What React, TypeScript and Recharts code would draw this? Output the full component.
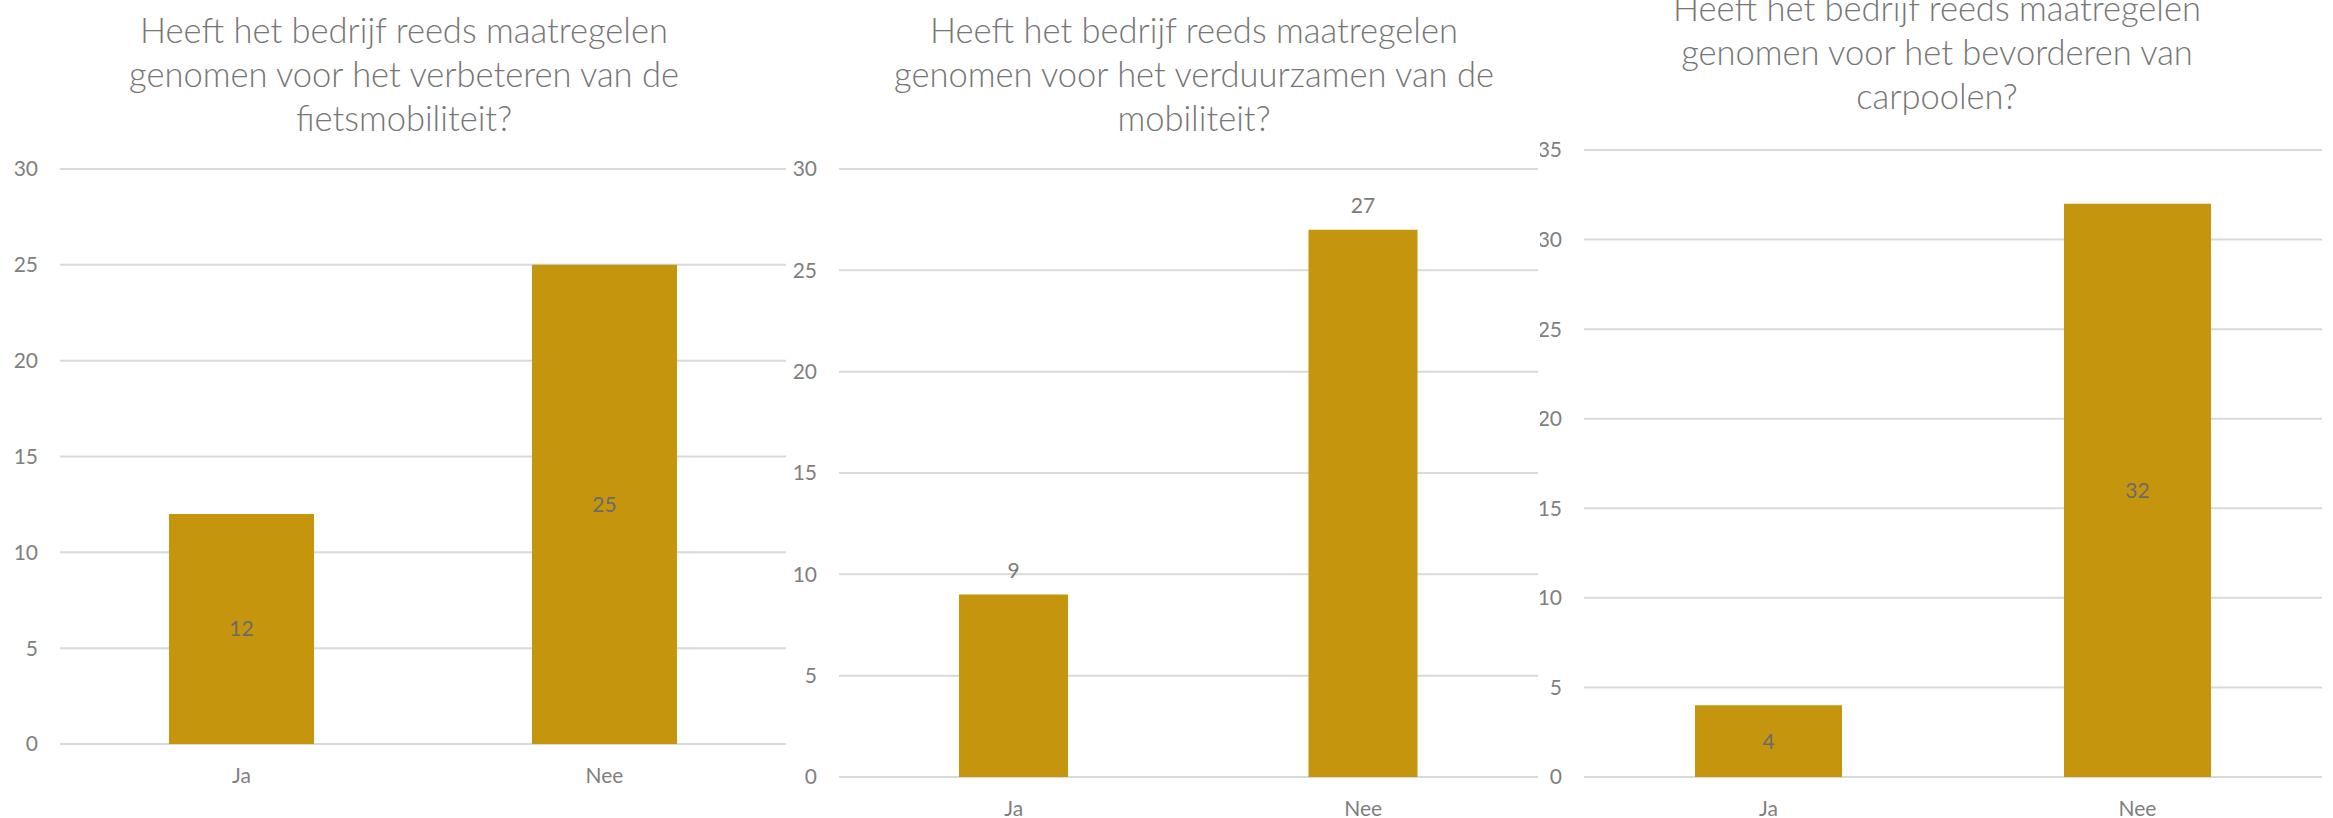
import React from 'react';
import { BarChart, Bar, XAxis, YAxis, CartesianGrid, LabelList } from 'recharts';

const categories = ['Ja', 'Nee'];
const fietsValues = [12, 25];
const verduurzaamValues = [9, 27];
const carpoolValues = [4, 32];

const fietsTitle = ['Heeft het bedrijf reeds maatregelen', 'genomen voor het verbeteren van de', 'fietsmobiliteit?'];
const verduurzaamTitle = ['Heeft het bedrijf reeds maatregelen', 'genomen voor het verduurzamen van de', 'mobiliteit?'];
const carpoolTitle = ['Heeft het bedrijf reeds maatregelen', 'genomen voor het bevorderen van', 'carpoolen?'];

const ticks30 = [0, 5, 10, 15, 20, 25, 30];
const ticks35 = [0, 5, 10, 15, 20, 25, 30, 35];

const BAR = '#C5950E';
const GRID = '#D9D9D9';
const TEXT = '#7F7F7F';
const FONT = 'Lato, "Open Sans", sans-serif';

const toRows = (vals: number[]) => categories.map((c, i) => ({ name: c, val: vals[i] }));

type PanelProps = {
  left: number;
  width: number;
  title: string[];
  titleX: number;
  titleY: number;
  values: number[];
  ticks: number[];
  axisW: number;
  right: number;
  top: number;
  bottom: number;
  barSize: number;
  labelPos: 'center' | 'top';
  labelColor: string;
};

function Panel(p: PanelProps) {
  const max = p.ticks[p.ticks.length - 1];
  return (
    <>
      <div
        style={{
          position: 'absolute',
          left: p.titleX - 450,
          top: p.titleY - 22,
          width: 900,
          textAlign: 'center',
          fontFamily: FONT,
          fontWeight: 300,
          fontSize: 34.5,
          lineHeight: '44px',
          color: '#767676',
          whiteSpace: 'nowrap',
        }}
      >
        {p.title.map((t, i) => (
          <div key={i}>{t}</div>
        ))}
      </div>
      <div style={{ position: 'absolute', left: p.left, top: 0 }}>
        <BarChart
          width={p.width}
          height={818}
          data={toRows(p.values)}
          margin={{ top: p.top, right: p.right, left: 0, bottom: p.bottom - 40 }}
          barCategoryGap={0}
        >
          <CartesianGrid vertical={false} stroke={GRID} strokeWidth={2} />
          <XAxis
            dataKey="name"
            axisLine={false}
            tickLine={false}
            tickSize={0}
            tickMargin={24}
            height={40}
            tick={{ fill: TEXT, fontSize: 21, fontFamily: FONT }}
          />
          <YAxis
            width={p.axisW}
            domain={[0, max]}
            ticks={p.ticks}
            axisLine={false}
            tickLine={false}
            tickSize={0}
            tickMargin={22}
            tick={{ fill: TEXT, fontSize: 21, fontFamily: FONT }}
          />
          <Bar dataKey="val" fill={BAR} barSize={p.barSize} isAnimationActive={false}>
            <LabelList
              dataKey="val"
              position={p.labelPos}
              offset={17}
              fill={p.labelColor}
              fontSize={21}
              fontFamily={FONT}
            />
          </Bar>
        </BarChart>
      </div>
    </>
  );
}

export default function App() {
  return (
    <div style={{ position: 'absolute', left: 0, top: 0, width: 2333, height: 818, background: '#fff', overflow: 'hidden' }}>
      <Panel
        left={0}
        width={800}
        title={fietsTitle}
        titleX={404}
        titleY={30}
        values={fietsValues}
        ticks={ticks30}
        axisW={60}
        right={14}
        top={169}
        bottom={74}
        barSize={145}
        labelPos="center"
        labelColor="#6B6B6B"
      />
      <Panel
        left={790}
        width={800}
        title={verduurzaamTitle}
        titleX={1194}
        titleY={30}
        values={verduurzaamValues}
        ticks={ticks30}
        axisW={49}
        right={52}
        top={169}
        bottom={41}
        barSize={109}
        labelPos="top"
        labelColor="#7A7A7A"
      />
      <Panel
        left={1540}
        width={793}
        title={carpoolTitle}
        titleX={1937}
        titleY={8}
        values={carpoolValues}
        ticks={ticks35}
        axisW={44}
        right={11}
        top={150}
        bottom={41}
        barSize={147}
        labelPos="center"
        labelColor="#6B6B6B"
      />
    </div>
  );
}
